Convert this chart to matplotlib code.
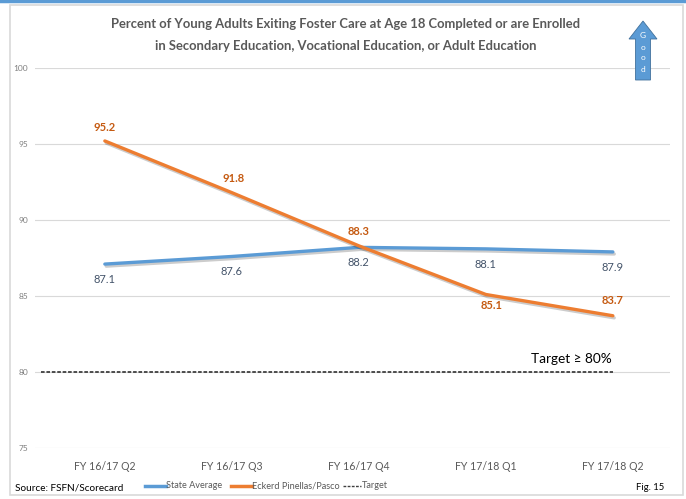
import matplotlib
matplotlib.use("Agg")
import matplotlib.pyplot as plt
from matplotlib.patches import FancyArrow, Rectangle
from matplotlib.lines import Line2D
import matplotlib.patheffects as pe

plt.rcParams['font.family'] = ['Lato', 'DejaVu Sans']

quarters = ["FY 16/17 Q2", "FY 16/17 Q3", "FY 16/17 Q4", "FY 17/18 Q1", "FY 17/18 Q2"]
state_avg = [87.1, 87.6, 88.2, 88.1, 87.9]
eckerd = [95.2, 91.8, 88.3, 85.1, 83.7]
target = 80
yticks = [75, 80, 85, 90, 95, 100]

BLUE = "#5B9BD5"
ORANGE = "#ED7D31"
ORANGE_TXT = "#C55A11"
BLUE_TXT = "#44546A"

fig = plt.figure(figsize=(6.86, 4.99), dpi=100)

# outer frame and top accent line
fig.add_artist(Rectangle((10/686, 4/499), 673/686, 490/499, transform=fig.transFigure,
                         fill=False, edgecolor="#D9D9D9", linewidth=1.2))
fig.add_artist(Line2D([0, 1], [1 - 1/499, 1 - 1/499], transform=fig.transFigure,
                      color="#5B9BD5", linewidth=2.5))

ax = fig.add_axes([35/686, 1 - 448/499, 635/686, 380/499])
x = list(range(len(quarters)))
ax.set_xlim(-0.55, 4.45)
ax.set_ylim(75, 100)
ax.set_yticks(yticks)
ax.set_yticklabels([str(v) for v in yticks], fontsize=6, color="#7F7F7F")
ax.set_xticks(x)
ax.set_xticklabels(quarters, fontsize=7.6, color="#595959")
ax.tick_params(axis='both', length=0)
ax.tick_params(axis='x', pad=9)
ax.tick_params(axis='y', pad=5)
for s in ax.spines.values():
    s.set_visible(False)
ax.grid(axis='y', color="#D9D9D9", linewidth=0.8)
ax.set_axisbelow(True)

shadow = [pe.SimpleLineShadow(offset=(1, -1.5), alpha=0.2), pe.Normal()]
ax.plot([-0.5, 4], [target, target], color="#404040", linestyle=(0, (2, 1)), linewidth=1.3)
ax.plot(x, state_avg, color=BLUE, linewidth=2.4, solid_capstyle='round', path_effects=shadow)
ax.plot(x, eckerd, color=ORANGE, linewidth=2.4, solid_capstyle='round', path_effects=shadow)

# data labels
for xi, v in zip(x, state_avg):
    ax.annotate(f"{v}", (xi, v), xytext=(0, -11), textcoords="offset points",
                ha="center", va="center", fontsize=8, color=BLUE_TXT)
orange_off = [10, 10, 10, -8, 11]
orange_dx = [0, 1, 0, 4, 0]
for xi, v, off, dx in zip(x, eckerd, orange_off, orange_dx):
    ax.annotate(f"{v}", (xi, v), xytext=(dx, off), textcoords="offset points",
                ha="center", va="center", fontsize=8, color=ORANGE_TXT, fontweight="bold")

ax.text(3.99, 80.45, "Target \u2265 80%", ha="right", va="bottom", fontsize=9.8, color="#000000")

fig.text(0.5 + 3/686, 1 - 35/499,
         "Percent of Young Adults Exiting Foster Care at Age 18 Completed or are Enrolled\n"
         "in Secondary Education, Vocational Education, or Adult Education",
         ha="center", va="center", fontsize=9.4, fontweight="bold", color="#595959",
         linespacing=2.0)

# "Good" arrow
fig.add_artist(FancyArrow(643/686, 1 - 80/499, 0, 59/499, width=15/686, head_width=28/686,
                          head_length=18/499, length_includes_head=True,
                          transform=fig.transFigure, facecolor=BLUE, edgecolor="#41719C",
                          linewidth=0.6))
for i, ch in enumerate("Good"):
    fig.text(643/686, 1 - (36 + i*11)/499, ch, ha="center", va="center",
             fontsize=6, color="white")

# legend row
ly = 1 - 486/499
fig.add_artist(Line2D([145/686, 166/686], [ly, ly], transform=fig.transFigure, color=BLUE, linewidth=2.5))
fig.text(166/686, ly, "State Average", ha="left", va="center", fontsize=6.6, color="#595959")
fig.add_artist(Line2D([231/686, 252/686], [ly, ly], transform=fig.transFigure, color=ORANGE, linewidth=2.5))
fig.text(252/686, ly, "Eckerd Pinellas/Pasco", ha="left", va="center", fontsize=6.6, color="#595959")
fig.add_artist(Line2D([343/686, 361/686], [ly, ly], transform=fig.transFigure, color="#404040",
                      linewidth=1.0, linestyle=(0, (2, 1))))
fig.text(362/686, ly, "Target", ha="left", va="center", fontsize=6.6, color="#595959")

fig.text(15/686, 1 - 488/499, "Source: FSFN/Scorecard", ha="left", va="center", fontsize=7.2, color="#000000")
fig.text(650/686, 1 - 487/499, "Fig. 15", ha="center", va="center", fontsize=6.8, color="#000000")

fig.savefig("out.png", dpi=100, facecolor="white")
